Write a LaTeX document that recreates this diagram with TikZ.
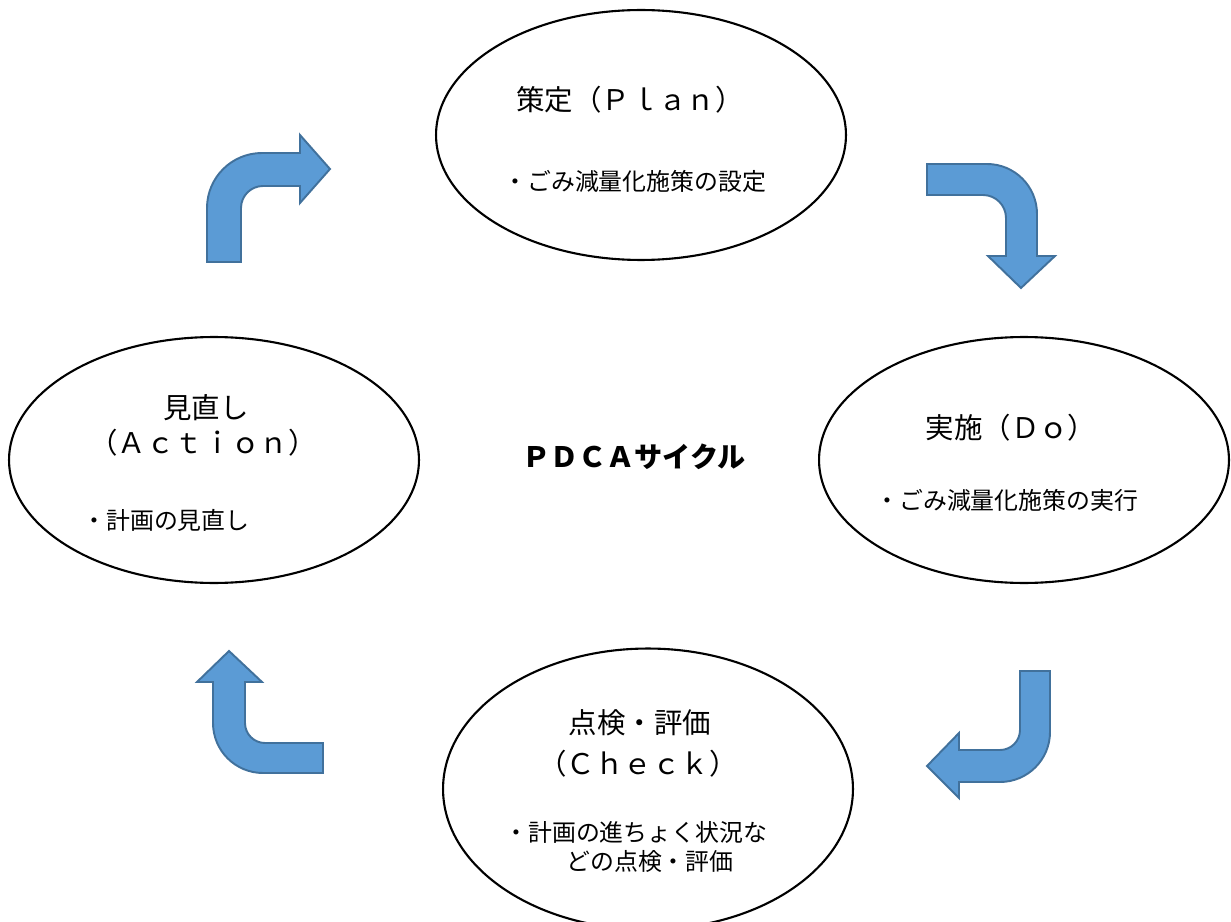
\documentclass[tikz,border=0pt]{standalone}
\usepackage{fontspec}
\setmainfont{Noto Sans CJK JP}
\definecolor{arrowfill}{RGB}{91,155,213}
\definecolor{arrowline}{RGB}{65,113,156}
\usetikzlibrary{shapes.geometric}

\begin{document}
\begin{tikzpicture}[x=0.02cm,y=-0.02cm,
  phase/.style={draw,ellipse,line width=1.2pt,minimum width=8.2cm,minimum height=5cm,inner sep=0pt},
  head/.style={inner sep=0pt,font=\fontsize{16.2}{19}\selectfont},
  item/.style={inner sep=0pt,anchor=west,font=\fontsize{13.6}{16}\selectfont},
  bent/.style={fill=arrowfill,draw=arrowline,line width=1.1pt,line join=miter}]
  \useasboundingbox (0,0) rectangle (1231,922);
  \clip (0,0) rectangle (1231,922);
  % phases
  \node[phase] (plan) at (641,135) {};
  \node[phase,minimum height=4.92cm] (do) at (1024,460) {};
  \node[phase,minimum height=4.92cm] (act) at (214,460) {};
  \node[phase,minimum height=5.62cm] (chk) at (648,789) {};
  % texts
  \node[head] (plant) at (630,100) {策定（Ｐｌａｎ）};
  \node[item] (plani) at (503,181) {・ごみ減量化施策の設定};
  \node[head] (dot) at (1011,428) {実施（Ｄｏ）};
  \node[item] (doi) at (875,500) {・ごみ減量化施策の実行};
  \node[head] (actt) at (206,408) {見直し};
  \node[head] (actt2) at (203,443) {（Ａｃｔｉｏｎ）};
  \node[item] (acti) at (82,520) {・計画の見直し};
  \node[head] (chkt) at (640,723) {点検・評価};
  \node[head] (chkt2) at (638,764) {（Ｃｈｅｃｋ）};
  \node[item] (chki) at (504,832) {・計画の進ちょく状況な};
  \node[item] (chki2) at (566,861) {どの点検・評価};
  \node[font=\fontsize{16}{19}\selectfont\bfseries] (title) at (634,457) {ＰＤＣＡサイクル};
  % bent arrows
  \draw[bent] (207,262) [rounded corners=1.1cm] -- (207,153) [sharp corners] -- (300,153) -- (300,135)
    -- (330,169) -- (300,203) -- (300,186) [rounded corners=0.44cm] -- (241,186) [sharp corners] -- (241,262) -- cycle;
  \draw[bent] (927,164) [rounded corners=1cm] -- (1037,164) [sharp corners] -- (1037,256) -- (1055,256)
    -- (1021,288) -- (988,256) -- (1006,256) [rounded corners=0.46cm] -- (1006,195) [sharp corners] -- (927,195) -- cycle;
  \draw[bent] (1020,671) -- (1050,671) [rounded corners=1cm] -- (1050,782) [sharp corners] -- (959,782) -- (959,798)
    -- (927,766) -- (959,733) -- (959,750) [rounded corners=0.4cm] -- (1020,750) [sharp corners] -- cycle;
  \draw[bent] (323,773) [rounded corners=1cm] -- (213,773) [sharp corners] -- (213,682) -- (197,682)
    -- (229,651) -- (262,682) -- (245,682) [rounded corners=0.4cm] -- (245,743) [sharp corners] -- (323,743) -- cycle;
\end{tikzpicture}
\end{document}
